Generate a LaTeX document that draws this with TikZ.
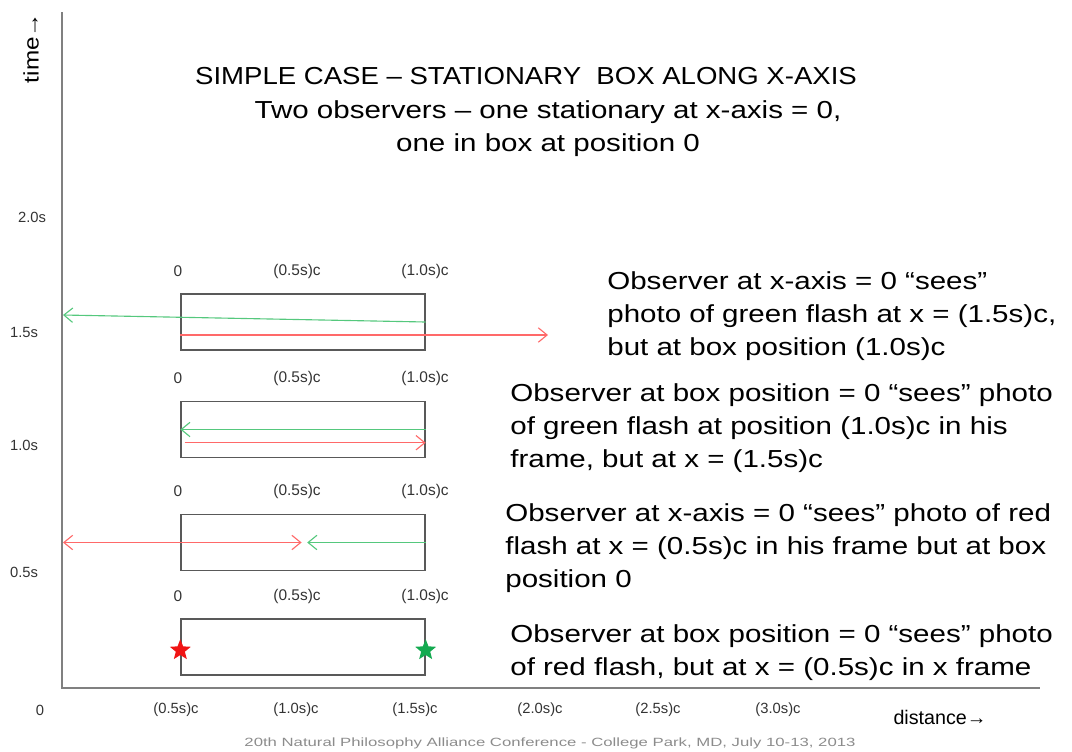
\documentclass[tikz,border=0pt]{standalone}
\usepackage{fontspec}
\setmainfont{Liberation Sans}
\usetikzlibrary{positioning,shapes.geometric,arrows.meta}
\definecolor{flashred}{RGB}{255,105,105}
\definecolor{flashgreen}{RGB}{85,200,125}
\definecolor{starred}{RGB}{240,20,20}
\definecolor{stargreen}{RGB}{20,170,80}

\begin{document}
\begin{tikzpicture}
[x=0.025cm, y=-0.025cm,
>={Straight Barb[length=2.2mm,width=3.6mm]},
% STYLES
% box is the moving frame drawn at each moment
box/.style={rectangle, draw=black!65, line width=0.9pt, minimum width=6.1cm, minimum height=1.4cm, inner sep=0pt},
% positions written over each box
posn/.style={font=\fontsize{11}{13}\selectfont, text=black!80, inner sep=1pt},
% labels along the axes
axlbl/.style={font=\fontsize{10.5}{12}\selectfont, text=black!80, inner sep=1pt},
% the explaining texts
note/.style={align=left, anchor=base west, inner sep=0pt, xscale=1.2, font=\fontsize{17.5}{23.4}\selectfont},
flash/.style={star, star points=5, star point ratio=2.3, minimum size=0.55cm, inner sep=0pt},
axis/.style={draw=black!50, line width=1.4pt}]

\useasboundingbox (0,0) rectangle (1072,751);

% Axes
\coordinate (origin) at (62,688);
\coordinate (top) at (62,12);
\coordinate (far) at (1040,688);
\draw [axis] (top) -- (origin) -- (far);
\node [rotate=90, font=\fontsize{15}{17}\selectfont, xscale=1.15] (time) at (31,48) {time→};
\node [font=\fontsize{14}{16}\selectfont] (distance) at (940,717) {distance→};

\node [axlbl] (t20) at (32,217) {2.0s};
\node [axlbl] (t15) at (24,332) {1.5s};
\node [axlbl] (t10) at (24,445) {1.0s};
\node [axlbl] (t05) at (24,572) {0.5s};
\node [axlbl] (d0) at (40,710) {0};
\node [axlbl] (d05) at (176,710) {(0.5s)c};
\node [axlbl] (d10) at (296,710) {(1.0s)c};
\node [axlbl] (d15) at (415,710) {(1.5s)c};
\node [axlbl] (d20) at (540,710) {(2.0s)c};
\node [axlbl] (d25) at (658,710) {(2.5s)c};
\node [axlbl] (d30) at (778,710) {(3.0s)c};

% Title
\node [anchor=base, inner sep=0pt, xscale=1.12, font=\fontsize{17.5}{23.4}\selectfont] (title) at (526,84)
  {SIMPLE CASE – STATIONARY\ \ BOX ALONG X-AXIS};
\node [align=center, anchor=base, inner sep=0pt, xscale=1.2, font=\fontsize{17.5}{23.4}\selectfont] (subtitle) at (548,151)
  {Two observers – one stationary at x-axis = 0,\\ one in box at position 0};

% Boxes with their positions
\foreach \n/\y in {A/322, B/429.5, C/542.5, D/647} {
  \node [box] (box\n) at (303,\y) {};
  \node [posn] (zero\n) at (178,\y-51) {0};
  \node [posn] (half\n) at (297,\y-51) {(0.5s)c};
  \node [posn] (one\n) at (425,\y-51) {(1.0s)c};
}

% Box A
\coordinate (seenA) at (63,315);
\coordinate (goneA) at (548,335);
\draw [->, flashgreen, line width=0.8pt] (boxA.east) -- (seenA);
\draw [->, flashred, line width=0.8pt] (boxA.west |- goneA) -- (goneA);

% Box B
\draw [->, flashgreen, line width=0.8pt] (boxB.east) -- (boxB.west);
\draw [->, flashred, line width=0.8pt] ([xshift=3pt, yshift=-0.33cm]boxB.west) -- ([yshift=-0.33cm]boxB.east);

% Box C
\coordinate (seenC) at (63,542.5);
\draw [<->, flashred, line width=0.8pt] (seenC) -- ([xshift=-1pt]boxC.center);
\draw [->, flashgreen, line width=0.8pt] (boxC.east) -- ([xshift=3pt]boxC.center);

% Box D
\node [flash, fill=starred] (redflash) at ([yshift=-0.08cm]boxD.west) {};
\node [flash, fill=stargreen] (greenflash) at ([yshift=-0.08cm]boxD.east) {};

% Notes
\node [note] (noteA) at (607,355) {Observer at x-axis = 0 “sees”\\ photo of green flash at x = (1.5s)c,\\ but at box position (1.0s)c};
\node [note] (noteB) at (510,467) {Observer at box position = 0 “sees” photo\\ of green flash at position (1.0s)c in his\\ frame, but at x = (1.5s)c};
\node [note] (noteC) at (505,587) {Observer at x-axis = 0 “sees” photo of red\\ flash at x = (0.5s)c in his frame but at box\\ position 0};
\node [note] (noteD) at (510,675) {Observer at box position = 0 “sees” photo\\ of red flash, but at x = (0.5s)c in x frame};

% Footer
\node [text=black!45, font=\fontsize{8.5}{10}\selectfont, xscale=1.4] (footer) at (550,743)
  {20th Natural  Philosophy Alliance Conference  - College Park, MD, July 10-13, 2013};

\end{tikzpicture}
\end{document}
